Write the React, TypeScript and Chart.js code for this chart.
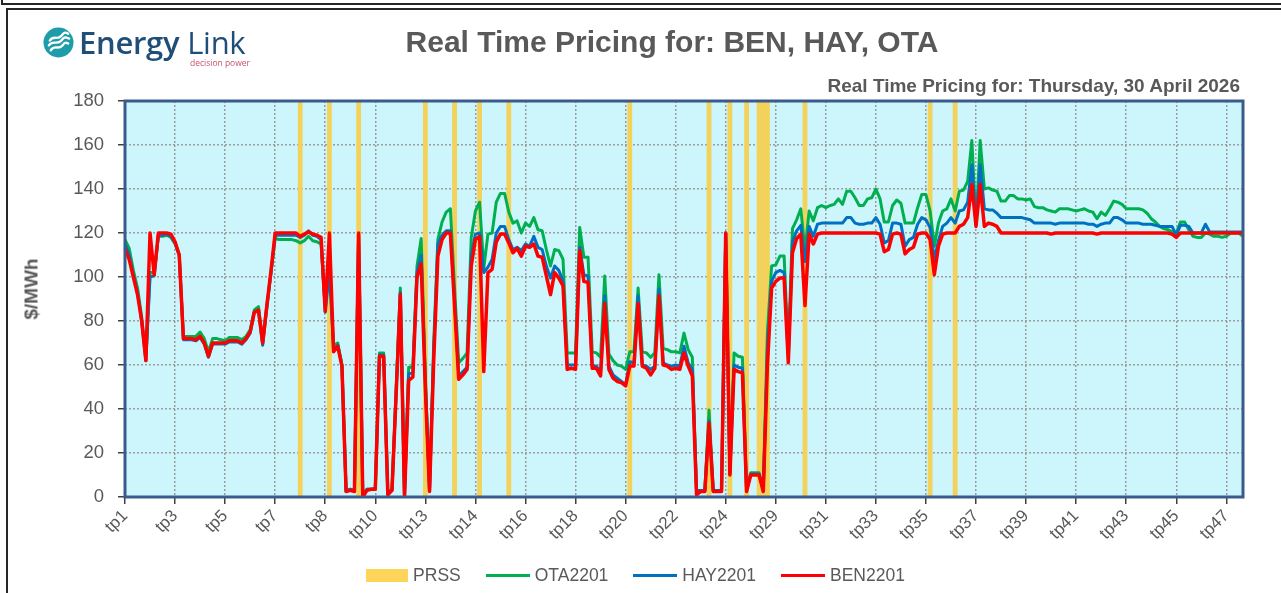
import React, { useEffect, useRef } from "react";
import { Chart, registerables } from "chart.js";

Chart.register(...registerables);

// ---------- data ----------
const tickLabels = [
  "tp1", "tp3", "tp5", "tp7", "tp8", "tp10", "tp13", "tp14", "tp16", "tp18", "tp20", "tp22",
  "tp24", "tp29", "tp31", "tp33", "tp35", "tp37", "tp39", "tp41", "tp43", "tp45", "tp47",
];
const pointsPerTick = 12;

// number of real-time price records in each trading period tp1..tp47
const tpCounts = [
  6, 6, 6, 6, 6, 6, 12, 6, 6, 4, 4, 4, 12,
  6, 6, 6, 6, 6, 6, 6, 6, 6, 6,
  3, 3, 2, 2, 2,
  6, 6, 6, 6, 6, 6, 6, 6, 6, 6, 6, 6, 6, 6, 6, 6, 6, 6,
  5,
];

const ben2201 = [
  113, 108, 100, 92, 80, 62, 120, 101, 120, 120, 120, 119.5,
  116, 110, 72, 72, 72, 71.5, 73, 70, 64, 70, 70, 70,
  70, 71, 71, 71, 70, 72, 75, 84, 85, 70, 87, 103,
  120, 120, 120, 120, 120, 120, 118.5, 119.5, 120.5, 119.5, 119, 118,
  84.5, 120, 66, 68.5, 59.5, 2.5, 3, 2.5, 120, 0, 3, 3.5,
  3.5, 64, 64, 1, 3, 47, 92, 0, 53, 54.5, 100, 106,
  49, 2.5, 62, 109.5, 117, 120, 120, 87, 53.5, 55.5, 58, 105,
  117, 118.5, 57, 102, 103.5, 116, 119.5, 119.5, 115.5, 111, 113, 109.5,
  114, 113.5, 115, 109.5, 109, 100.5, 92, 102, 99.5, 96, 58, 58.5,
  58, 112, 98, 97.5, 58.5, 58.5, 55, 88, 58, 54, 52.5, 52,
  50.5, 59.5, 59.5, 88, 59.5, 58.5, 55.5, 58.5, 91.5, 60, 59.5, 58,
  58.5, 58, 65.5, 59.5, 55, 1, 2.5, 2.5, 33.5, 2.5, 2.5, 2.5,
  120, 10, 58, 57, 56.5, 2.5, 10, 10, 10, 2.5, 60, 95,
  98, 99.5, 99.5, 61, 111, 117.5, 119.5, 87, 119.5, 115, 119.5, 120,
  120, 120, 120, 120, 120, 120, 120, 120, 120, 120, 120, 120,
  120, 119.5, 111.5, 112.5, 119.5, 120, 119.5, 110.5, 112.5, 113.5, 119.5, 120,
  120, 117, 101, 114, 119.5, 120, 120, 120, 123, 124, 127, 142,
  123, 142, 123, 124.5, 124, 123, 120, 120, 120, 120, 120, 120,
  120, 120, 120, 120, 120, 120, 119.5, 120, 120, 120, 120, 120,
  120, 120, 120, 120, 120, 119.5, 120, 120, 120, 120, 120, 120,
  120, 120, 120, 120, 120, 120, 120, 120, 120, 120, 120, 119.5,
  118, 120, 120, 120, 120, 120, 120, 120, 120, 120, 120, 120,
  120, 120, 120, 120, 120,
];

const ota2201 = [
  117, 113, 103, 95, 82, 63, 102, 102, 118.5, 118.5, 119, 118,
  115, 110, 73, 73, 73, 73, 75, 72, 66, 72, 72, 71.5,
  71, 72.5, 72.5, 72.5, 71.5, 73, 76, 85, 86.5, 71, 87, 102,
  117.5, 117, 117, 117, 117, 116.5, 115.5, 116.5, 118.5, 116.5, 116, 115,
  86, 104, 69, 70, 60, 3, 3.5, 3, 119, 1, 3.5, 3.5,
  4, 65.5, 65.5, 2, 3.5, 49, 95, 1, 59, 59, 105, 117.5,
  55, 3, 70, 117, 125, 129.5, 131, 95, 61, 63, 65.5, 118,
  130, 134, 104, 119.5, 120, 134, 138, 138, 129.5, 124.5, 125.5, 120,
  124.5, 123, 127, 121.5, 121, 112.5, 105, 112.5, 112, 108, 65.5, 65.5,
  65.5, 122.5, 109, 109, 66, 65.5, 63.5, 100.5, 65, 62, 60, 59.5,
  58, 66, 66, 95, 66, 65.5, 63.5, 65.5, 101, 67.5, 67, 66,
  66, 65.5, 74.5, 67, 63.5, 3, 3, 3, 39.5, 3, 3, 3,
  120, 11, 65.5, 64, 63.5, 3, 11, 11, 11, 3, 75, 105,
  105.5, 109.5, 109.5, 66, 122, 126, 131, 112, 130, 125.5, 131.5, 132.5,
  131.5, 132.5, 133, 135.5, 133, 139, 139, 136, 132.5, 132.5, 135.5, 136,
  140, 135.5, 125, 125, 132.5, 135, 133.5, 124.5, 124.5, 124.5, 131.5, 137.5,
  137.5, 130, 114, 124.5, 130, 131, 135.5, 130, 139, 139.5, 143.5, 162,
  124, 162, 140, 140.5, 139.5, 139, 134.5, 134.5, 137, 137, 135.5, 135.5,
  135, 135.5, 132, 131.5, 131.5, 130.5, 130, 129.5, 131, 131, 131, 130.5,
  130, 130.5, 131, 130, 129.5, 126.5, 129.5, 128, 131, 134.5, 134, 133,
  131, 131, 131, 131, 130.5, 129, 126.5, 125, 123, 122, 121.5, 120.5,
  120, 125, 125, 121.5, 118.5, 118, 118, 120, 119.5, 118.5, 118.5, 118,
  118.5, 120, 120, 120, 118.5,
];

const hay2201 = [
  115, 110, 101, 93, 80, 62, 100, 100.5, 119, 119, 119.5, 118.5,
  115.5, 110, 71.5, 71.5, 71.5, 71, 72.5, 69.5, 63.5, 69.5, 69.5, 69.5,
  69.5, 70.5, 70.5, 70.5, 69.5, 71.5, 74.5, 84, 84.5, 69, 86, 102,
  119, 119, 119, 119, 119, 119, 118, 119, 121, 119, 118.5, 117,
  84, 103, 67, 69, 60, 2.5, 3.5, 3, 119, 0.5, 3.5, 3.5,
  3.5, 64.5, 64.5, 1.5, 3, 48, 93, 0.5, 56, 56.5, 102, 110,
  52, 3, 66, 115, 119, 121, 121, 90, 55, 57, 59, 110,
  119.5, 120, 102, 104.5, 108, 120, 123, 123, 117, 112.5, 113.5, 112,
  115, 114, 118.5, 113.5, 112.5, 105, 99.5, 105, 103, 98, 60, 60,
  60, 113.5, 101, 100.5, 59.5, 59.5, 56.5, 91.5, 59.5, 55.5, 54, 52.5,
  51, 61.5, 61, 91.5, 60, 59.5, 58, 59.5, 94.5, 61, 60, 59.5,
  60, 59.5, 68.5, 61, 58, 3, 3, 3, 34.5, 3, 3, 3,
  120, 10.5, 60, 59, 58.5, 3, 10.5, 10.5, 10.5, 3, 68, 98,
  102, 103, 102, 63, 116, 121, 123.5, 107, 123, 118.5, 124, 124.5,
  124.5, 124.5, 124.5, 124.5, 124.5, 127, 127, 124.5, 124, 124, 124.5, 124.5,
  127, 124, 115.5, 116.5, 124.5, 124.5, 124, 114, 117, 118, 124, 127,
  126, 122.5, 108, 116.5, 123, 124.5, 127, 124.5, 130, 130.5, 134, 151,
  124, 151, 131, 130.5, 130.5, 129, 127, 127, 127, 127, 127, 127,
  126.5, 126, 124.5, 124.5, 124.5, 124.5, 124.5, 124, 124.5, 124.5, 124.5, 124.5,
  124.5, 124.5, 124.5, 124, 124, 123, 124, 124.5, 124.5, 127, 127, 126,
  124.5, 124.5, 124.5, 124.5, 124, 124, 124, 123.5, 123, 123, 123, 123,
  119, 123.5, 123.5, 123, 120, 120, 120, 124, 120.5, 120.5, 120.5, 120.5,
  120.5, 120.5, 120.5, 120.5, 120.5,
];

// record indices flagged as PRSS
const prssIndices = [42, 49, 56, 72, 79, 85, 92, 121, 140, 145, 149, 152, 153, 154, 163, 193, 199];
const prssLevel = 180;

const yMin = 0;
const yMax = 180;
const yStep = 20;

// ---------- styles ----------
const FONT = "'Liberation Sans', Arial, sans-serif";
const GREY_TEXT = "#595959";
const C_PRSS = "#F3D25B";
const C_OTA = "#00B050";
const C_HAY = "#0070C0";
const C_BEN = "#FF0000";
const GRID = "#9C9C9C";

const categories: string[] = tpCounts.flatMap((c, k) => Array(c).fill("tp" + (k + 1)));
const prssData = categories.map((_, i) => (prssIndices.includes(i) ? prssLevel : null));

const plotFrame = {
  id: "plotFrame",
  beforeDraw(chart: any) {
    const { ctx, chartArea: a } = chart;
    ctx.save();
    ctx.fillStyle = "#CCF6FC";
    ctx.fillRect(a.left, a.top, a.right - a.left, a.bottom - a.top);
    ctx.restore();
  },
  afterDatasetsDraw(chart: any) {
    const { ctx, chartArea: a } = chart;
    ctx.save();
    ctx.strokeStyle = "#3B5B8C";
    ctx.lineWidth = 3;
    ctx.strokeRect(a.left, a.top, a.right - a.left, a.bottom - a.top);
    ctx.restore();
  },
};

function ChartCanvas() {
  const ref = useRef<HTMLCanvasElement | null>(null);
  useEffect(() => {
    if (!ref.current) return;
    Chart.defaults.font.family = FONT;
    const isTick = (i: number) => i % pointsPerTick === 0;
    const chart = new Chart(ref.current, {
      type: "line",
      data: {
        labels: categories,
        datasets: [
          {
            type: "bar",
            label: "PRSS",
            data: prssData as any,
            backgroundColor: C_PRSS,
            borderWidth: 0,
            barPercentage: 1,
            categoryPercentage: 1,
            order: 4,
          } as any,
          { label: "OTA2201", data: ota2201, borderColor: C_OTA, backgroundColor: C_OTA, borderWidth: 3, order: 3 },
          { label: "HAY2201", data: hay2201, borderColor: C_HAY, backgroundColor: C_HAY, borderWidth: 3, order: 2 },
          { label: "BEN2201", data: ben2201, borderColor: C_BEN, backgroundColor: C_BEN, borderWidth: 3.5, order: 1 },
        ],
      },
      options: {
        animation: false,
        responsive: false,
        maintainAspectRatio: false,
        layout: { padding: { top: 101, right: 38, left: 0, bottom: 0 } },
        plugins: { legend: { display: false }, tooltip: { enabled: false }, title: { display: false } },
        elements: {
          point: { radius: 0, hoverRadius: 0 },
          line: { tension: 0, borderJoinStyle: "round", fill: false },
        },
        scales: {
          x: {
            type: "category",
            offset: false,
            grid: {
              offset: false,
              color: (c: any) => (isTick(c.index) ? GRID : "rgba(0,0,0,0)"),
              lineWidth: (c: any) => (isTick(c.index) ? 1.5 : 0),
              tickLength: 7,
              tickColor: (c: any) => (isTick(c.index) ? "#404040" : "rgba(0,0,0,0)"),
              tickWidth: (c: any) => (isTick(c.index) ? 1.5 : 0),
              tickBorderDash: [],
            } as any,
            border: { display: false, dash: [2, 2] },
            ticks: {
              autoSkip: false,
              maxRotation: 45,
              minRotation: 45,
              padding: 2,
              color: GREY_TEXT,
              font: { family: FONT, size: 17 },
              callback: (_v: any, i: number) => (isTick(i) ? tickLabels[i / pointsPerTick] : ""),
            },
            afterFit: (s: any) => {
              s.height = 96;
            },
          },
          y: {
            min: yMin,
            max: yMax,
            grid: { color: GRID, lineWidth: 1.5, tickLength: 7, tickColor: "#404040", tickWidth: 1.5, tickBorderDash: [] } as any,
            border: { display: false, dash: [2, 2] },
            ticks: { stepSize: yStep, padding: 14, color: GREY_TEXT, font: { family: FONT, size: 18.5 } },
            afterFit: (s: any) => {
              s.width = 125;
            },
          },
        },
      },
      plugins: [plotFrame],
    });
    return () => chart.destroy();
  }, []);
  return <canvas ref={ref} width={1281} height={593} style={{ position: "absolute", left: 0, top: 0, width: 1281, height: 593 }} />;
}

function Logo() {
  return (
    <div style={{ position: "absolute", left: 43, top: 27, height: 40, width: 220 }}>
      <svg width="31" height="31" viewBox="0 0 32 32" style={{ position: "absolute", left: 0, top: 0 }}>
        <circle cx="16" cy="16" r="15.5" fill="#1E9CAA" />
        <path d="M7 14 C 11 8, 15 14, 19 9 S 24 6, 26 7" stroke="#fff" strokeWidth="2.4" fill="none" strokeLinecap="round" />
        <path d="M6 19 C 10 13, 15 19, 19 14 S 24 11, 27 12" stroke="#fff" strokeWidth="2.4" fill="none" strokeLinecap="round" />
        <path d="M8 24 C 12 18, 16 24, 20 19 S 24 17, 26 17" stroke="#fff" strokeWidth="2.4" fill="none" strokeLinecap="round" />
      </svg>
      <div
        style={{
          position: "absolute",
          left: 36,
          top: -5,
          fontFamily: "'Open Sans', sans-serif",
          fontSize: 31,
          color: "#1F4E79",
          whiteSpace: "nowrap",
          lineHeight: "40px",
          letterSpacing: -0.3,
        }}
      >
        <span style={{ fontWeight: 600 }}>Energy</span>
        <span style={{ fontWeight: 400, marginLeft: 8 }}>Link</span>
      </div>
      <div
        style={{
          position: "absolute",
          left: 147,
          top: 30,
          fontFamily: "'Open Sans', sans-serif",
          fontSize: 8.5,
          color: "#C8506E",
          whiteSpace: "nowrap",
        }}
      >
        decision power
      </div>
    </div>
  );
}

function LegendItem({ kind, color, label }: { kind: "box" | "line"; color: string; label: string }) {
  return (
    <div style={{ display: "flex", alignItems: "center", marginRight: 25 }}>
      {kind === "box" ? (
        <div style={{ width: 42, height: 13, background: "#FDD55A" }} />
      ) : (
        <div style={{ width: 44, height: 3, background: color }} />
      )}
      <span style={{ marginLeft: 5, fontFamily: FONT, fontSize: 17.5, color: GREY_TEXT }}>{label}</span>
    </div>
  );
}

export default function App() {
  useEffect(() => {
    document.body.style.margin = "0";
  }, []);
  return (
    <div style={{ position: "relative", width: 1281, height: 593, overflow: "hidden", background: "#fff" }}>
      <div style={{ position: "absolute", left: 1, top: -20, width: 1300, height: 21, border: "2px solid #262626" }} />
      <div style={{ position: "absolute", left: 6, top: 8, width: 1400, height: 700, border: "2px solid #262626" }} />
      <ChartCanvas />
      <Logo />
      <div
        style={{
          position: "absolute",
          left: 672,
          top: 27,
          transform: "translateX(-50%)",
          fontFamily: FONT,
          fontWeight: 700,
          fontSize: 30,
          lineHeight: 1,
          color: GREY_TEXT,
          whiteSpace: "nowrap",
        }}
      >
        Real Time Pricing for: BEN, HAY, OTA
      </div>
      <div
        style={{
          position: "absolute",
          right: 41,
          top: 76,
          fontFamily: FONT,
          fontWeight: 700,
          fontSize: 19,
          lineHeight: 1,
          color: GREY_TEXT,
          whiteSpace: "nowrap",
        }}
      >
        Real Time Pricing for: Thursday, 30 April 2026
      </div>
      <div
        style={{
          position: "absolute",
          left: 31,
          top: 289,
          transform: "translate(-50%, -50%) rotate(-90deg)",
          fontFamily: FONT,
          fontWeight: 700,
          fontSize: 19,
          lineHeight: 1,
          color: GREY_TEXT,
          whiteSpace: "nowrap",
        }}
      >
        $/MWh
      </div>
      <div
        style={{
          position: "absolute",
          left: 0,
          width: 1296,
          top: 564,
          height: 22,
          display: "flex",
          justifyContent: "center",
          alignItems: "center",
        }}
      >
        <LegendItem kind="box" color={C_PRSS} label="PRSS" />
        <LegendItem kind="line" color={C_OTA} label="OTA2201" />
        <LegendItem kind="line" color={C_HAY} label="HAY2201" />
        <LegendItem kind="line" color={C_BEN} label="BEN2201" />
      </div>
    </div>
  );
}
